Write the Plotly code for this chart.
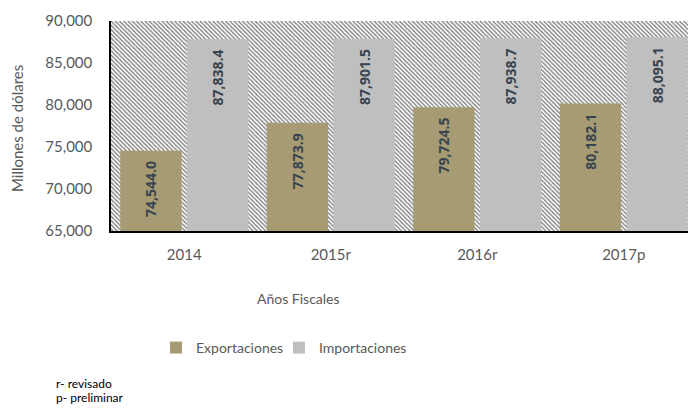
import plotly.graph_objects as go

categories = ["2014", "2015r", "2016r", "2017p"]
exportaciones = [74544.0, 77873.9, 79724.5, 80182.1]
importaciones = [87838.4, 87901.5, 87938.7, 88095.1]
y_ticks = [65000, 70000, 75000, 80000, 85000, 90000]

W, H = 688, 410
L, R, T, B = 111, 0, 21, 179
pw = W - L - R
ph = H - T - B
cat_px = 146.5

FONT = "Lato"
TXT = "#595959"

fig = go.Figure()

# hatched plot-area background (main subplot, drawn below the overlay)
fig.add_trace(go.Scatter(
    x=[0, 1, 1, 0, 0], y=[0, 0, 1, 1, 0], mode="none", fill="toself",
    fillcolor="white",
    fillpattern=dict(shape="\\", size=3, solidity=0.45, fgcolor="#000000", bgcolor="white"),
    hoverinfo="skip", showlegend=False, xaxis="x", yaxis="y"))

lab_font = dict(family="Open Sans", size=14, color="#38444f", weight="bold")
label_tpl = "%{y:,.1f}\u00a0\u00a0"

fig.add_trace(go.Bar(
    name="Exportaciones", x=categories, y=exportaciones,
    marker=dict(color="#a69b73", line=dict(width=0)),
    texttemplate=label_tpl, textposition="inside", insidetextanchor="end",
    textangle=-90, textfont=lab_font, xaxis="x2", yaxis="y2"))
fig.add_trace(go.Bar(
    name="Importaciones", x=categories, y=importaciones,
    marker=dict(color="#bfbfbf", line=dict(width=0)),
    texttemplate=label_tpl, textposition="inside", insidetextanchor="end",
    textangle=-90, textfont=lab_font, xaxis="x2", yaxis="y2"))
# invisible spacer entry so the last legend label is not clipped
fig.add_trace(go.Scatter(
    x=[None], y=[None], mode="markers",
    marker=dict(size=1, color="rgba(0,0,0,0)", line=dict(width=0)), name=" ",
    showlegend=True, hoverinfo="skip", xaxis="x2", yaxis="y2"))

def px_x(p):
    return (p - L) / pw

def px_y(p):
    return (H - B - p) / ph

fig.update_layout(
    width=W, height=H,
    margin=dict(l=L, r=R, t=T, b=B, pad=0, autoexpand=False),
    paper_bgcolor="white", plot_bgcolor="white",
    barmode="group", bargap=0.09, bargroupgap=0.08,
    font=dict(family=FONT, size=15, color=TXT),
    xaxis=dict(range=[0, 1], visible=False, fixedrange=True, automargin=False),
    yaxis=dict(range=[0, 1], visible=False, fixedrange=True, automargin=False),
    xaxis2=dict(overlaying="x", anchor="y2", type="category",
                range=[-0.5, -0.5 + pw / cat_px], automargin=False,
                showline=True, linecolor="black", linewidth=1.5,
                showgrid=False, ticks="", ticklabelstandoff=9,
                tickfont=dict(family=FONT, size=15, color=TXT)),
    yaxis2=dict(overlaying="y", anchor="x2", side="left", automargin=False,
                range=[65000, 90000], tickvals=y_ticks, tickformat=",d",
                showline=True, linecolor="black", linewidth=1.5,
                showgrid=False, ticks="", ticklabelstandoff=14,
                tickfont=dict(family=FONT, size=15, color=TXT)),
    legend=dict(orientation="h", x=px_x(156), y=px_y(348), xanchor="left", yanchor="middle",
                font=dict(family=FONT, size=14, color=TXT), entrywidth=78,
                itemwidth=30, bgcolor="rgba(0,0,0,0)"),
    showlegend=True,
    annotations=[
        dict(text="Millones de dólares", xref="paper", yref="paper",
             x=px_x(17), y=px_y(128), textangle=-90, showarrow=False,
             xanchor="center", yanchor="middle",
             font=dict(family=FONT, size=15, color=TXT)),
        dict(text="Años Fiscales", xref="paper", yref="paper",
             x=px_x(298), y=px_y(298), showarrow=False,
             xanchor="center", yanchor="middle",
             font=dict(family=FONT, size=14, color=TXT)),
        dict(text="r- revisado", xref="paper", yref="paper",
             x=px_x(54), y=px_y(383), showarrow=False,
             xanchor="left", yanchor="middle",
             font=dict(family="Lato", size=12, color="black")),
        dict(text="p- preliminar", xref="paper", yref="paper",
             x=px_x(54), y=px_y(398), showarrow=False,
             xanchor="left", yanchor="middle",
             font=dict(family="Lato", size=12, color="black")),
    ],
)

fig.write_html("out.html", config={"displayModeBar": False},
               post_script="document.body.style.margin='0';")
